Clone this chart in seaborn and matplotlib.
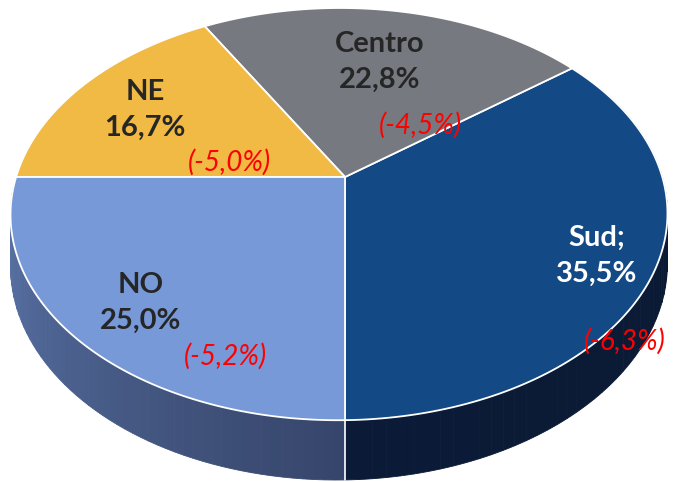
"""
3D-style pie chart: share by area with yearly change.
"""

import numpy as np
import matplotlib.pyplot as plt
import seaborn as sns
from matplotlib.patches import Polygon


AREAS: list[str] = ["Sud;", "Centro", "NE", "NO"]
SHARES: list[float] = [35.5, 22.8, 16.7, 25.0]
SHARE_LABELS: list[str] = ["35,5%", "22,8%", "16,7%", "25,0%"]
CHANGE_LABELS: list[str] = ["(-6,3%)", "(-4,5%)", "(-5,0%)", "(-5,2%)"]

TOP_COLORS: list[str] = ["#134a85", "#767a80", "#f0ba45", "#7899d8"]
TEXT_COLORS: list[str] = ["white", "#262626", "#262626", "#262626"]

START_ANGLE: float = 270.0

# projection of the tilted disc (pixel space)
CX, CY = 345.0, 177.0
SX, SY = 323.0, 199.4
K_X, K_Y = 0.018, 0.18
DEPTH = 49.0

# label anchors in pixel space (name/value, change)
NAME_POS = [(597, 256), (380, 62), (145, 110), (141, 303)]
CHANGE_POS = [(625, 341), (420, 125), (229, 162), (225, 356)]


def project(theta_deg: np.ndarray, drop: bool = False):
    """
    Map angles on the unit disc rim to screen coords.
    """

    t = np.radians(theta_deg)
    x_unit, y_unit = np.cos(t), np.sin(t)
    w = 1 + K_X * x_unit + K_Y * y_unit
    xs = CX + SX * x_unit / w
    ys = CY - SY * y_unit / w
    if drop:
        ys = ys + DEPTH / w
    return xs, ys


def slice_angles() -> list[tuple[float, float]]:
    """
    Start / end angle of each slice.
    """

    bounds = START_ANGLE + np.concatenate(
        [[0], np.cumsum(SHARES)]
    ) / sum(SHARES) * 360
    return list(zip(bounds[:-1], bounds[1:]))


def mix(c1: str, c2: str, f: float):
    a = np.array(plt.matplotlib.colors.to_rgb(c1))
    b = np.array(plt.matplotlib.colors.to_rgb(c2))
    return tuple(a + (b - a) * f)


def draw_sides(ax, angles) -> None:
    """
    Draw the visible wall of the cylinder.
    """

    side_colors = [("#0b1b37", "#0a1a34"), None, None, ("#5d78ad", "#36456a")]
    for (a0, a1), shade in zip(angles, side_colors):
        lo, hi = max(a0, 150), min(a1, 390)
        if a0 >= 360:
            lo, hi = max(a0 - 360, 150), min(a1 - 360, 390)
        if shade is None or hi <= lo:
            continue
        steps = np.linspace(lo, hi, 60)
        for i in range(len(steps) - 1):
            th = np.linspace(steps[i], steps[i + 1], 4)
            x1, y1 = project(th)
            x2, y2 = project(th[::-1], drop=True)
            f = (i + 0.5) / (len(steps) - 1)
            ax.add_patch(Polygon(
                np.column_stack([np.r_[x1, x2], np.r_[y1, y2]]),
                closed=True, facecolor=mix(shade[0], shade[1], f),
                edgecolor=mix(shade[0], shade[1], f), linewidth=0.6,
            ))
    xs, ys = project(np.array([270.0, 270.0]))
    ax.plot([CX, CX], [ys[0], ys[0] + DEPTH / 0.82], color="white", lw=1.2)


def draw_top(ax, angles) -> None:
    """
    Draw the slices on the top face.
    """

    for (a0, a1), color in zip(angles, TOP_COLORS):
        th = np.linspace(a0, a1, 120)
        xs, ys = project(th)
        ax.add_patch(Polygon(
            np.column_stack([np.r_[CX, xs], np.r_[CY, ys]]),
            closed=True, facecolor=color, edgecolor="white", linewidth=1.3,
        ))


def draw_labels(ax) -> None:
    """
    Names, shares and changes.
    """

    for i, area in enumerate(AREAS):
        ax.text(
            NAME_POS[i][0], NAME_POS[i][1],
            f"{area}\n{SHARE_LABELS[i]}",
            ha="center", va="center", fontsize=21, fontweight="bold",
            color=TEXT_COLORS[i], linespacing=1.45,
        )
        ax.text(
            CHANGE_POS[i][0], CHANGE_POS[i][1], CHANGE_LABELS[i],
            ha="center", va="center", fontsize=20, fontstyle="italic",
            color="#ff0000",
        )


def main() -> None:
    sns.set_theme(style="white")
    plt.rcParams["font.family"] = ["Lato", "DejaVu Sans"]

    fig = plt.figure(figsize=(6.74, 4.82), dpi=100)
    ax = fig.add_axes([0, 0, 1, 1])
    ax.set_xlim(0, 674)
    ax.set_ylim(482, 0)
    ax.axis("off")

    angles = slice_angles()
    draw_sides(ax, angles)
    draw_top(ax, angles)
    draw_labels(ax)

    fig.savefig("out.png", dpi=100)


if __name__ == "__main__":
    main()
